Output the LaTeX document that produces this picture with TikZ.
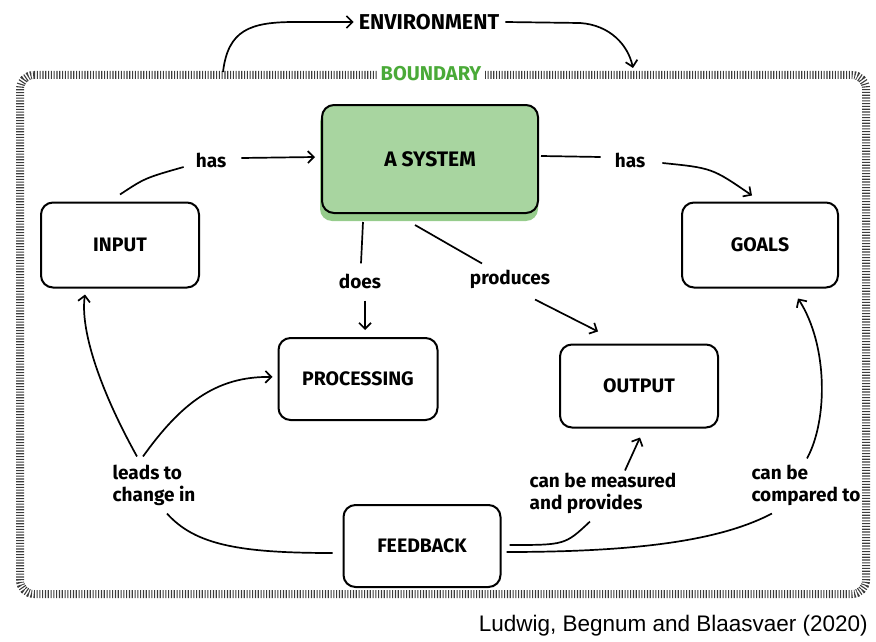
\documentclass[tikz,border=0pt]{standalone}
\usepackage{fontspec}
\setmainfont{Fira Sans}
\newfontfamily\citefont{Liberation Sans}
\usetikzlibrary{arrows.meta}
\definecolor{sysgreen}{RGB}{168,213,160}
\definecolor{shadowgreen}{RGB}{150,204,140}
\definecolor{bndgreen}{RGB}{74,170,56}
\definecolor{hatchgray}{RGB}{60,60,60}
\tikzset{
  box/.style={draw, line width=2pt, rounded corners=12pt, inner sep=0pt,
    font=\bfseries\fontsize{19.5}{19.5}\selectfont},
  lbl/.style={font=\bfseries\fontsize{19}{22}\selectfont, align=left, inner sep=1pt},
  con/.style={line width=1.7pt},
  arr/.style={con, -{Straight Barb[length=6pt,width=12pt,line width=1.7pt]}},
  hatchline/.style={draw=hatchgray, line width=8pt, dash pattern=on 1.1pt off 1.7pt, rounded corners=14pt},
}
\begin{document}
\begin{tikzpicture}[x=1pt,y=-1pt]
\useasboundingbox (0,0) rectangle (876,642);
% boundary
\draw[hatchline] (20,75) -- (866,75) -- (866,594) -- (20,594) -- cycle;
\node[fill=white, inner sep=4pt, text=bndgreen, font=\bfseries\fontsize{20}{20}\selectfont] (bnd) at (431,74) {BOUNDARY};
% environment
\node[lbl, font=\bfseries\fontsize{21.5}{21.5}\selectfont] (env) at (429,22) {ENVIRONMENT};
\coordinate (envL) at (223,72);
\coordinate (envR) at (633,68);
\draw[arr] (envL) .. controls (228,30) and (250,22) .. (295,22) -- ([shift={(-4,0)}]env.west);
\draw[arr] ([shift={(5,0)}]env.east) -- (580,23) .. controls (610,25) and (628,45) .. (envR);
% boxes
\fill[shadowgreen, rounded corners=12pt] (320,110) rectangle (538,221);
\node[box, fill=sysgreen, minimum width=216pt, minimum height=108pt] (sys) at (430,159) {\fontsize{21}{21}\selectfont A SYSTEM};
\node[box, minimum width=158pt, minimum height=85pt] (input) at (120,245) {INPUT};
\node[box, minimum width=156pt, minimum height=85pt] (goals) at (760,245) {GOALS};
\node[box, minimum width=159pt, minimum height=82pt] (proc) at (358,379) {PROCESSING};
\node[box, minimum width=158pt, minimum height=83pt] (output) at (639,386) {OUTPUT};
\node[box, minimum width=157pt, minimum height=82pt] (feed) at (422,546) {FEEDBACK};
% labels
\node[lbl] (hasL) at (211,160) {has};
\node[lbl] (hasR) at (630,160) {has};
\node[lbl] (does) at (360,281) {does};
\node[lbl] (prod) at (510,279) {produces};
\node[lbl] (leads) at (154,485) {leads to\\change in};
\node[lbl] (meas) at (603,493) {can be measured\\and provides};
\node[lbl] (comp) at (806,485) {can be\\compared to};
% connectors
\draw[con] ([shift={(0,-7)}]input.north) .. controls (145,178) .. ([shift={(-11,7)}]hasL.west);
\draw[arr] ([shift={(14,-2)}]hasL.east) -- ([shift={(-6,-2)}]sys.west);
\draw[con] ([shift={(2,-3)}]sys.east) -- ([shift={(-13,-3)}]hasR.west);
\draw[arr] ([shift={(16,3)}]hasR.east) .. controls (712,168) .. ([shift={(-8,-6)}]goals.north);
\draw[con] ([shift={(42,8)}]sys.south west) -- ([shift={(1,-9)}]does.north);
\draw[arr] ([shift={(5,11)}]does.south) -- ([shift={(7,-7)}]proc.north);
\draw[con] ([shift={(-15,11)}]sys.south) -- ([shift={(-28,-5)}]prod.north);
\draw[arr] ([shift={(25,10)}]prod.south) -- ([shift={(-41,-12)}]output.north);
\draw[arr] ([shift={(-17,-7)}]leads.north) .. controls (100,390) and (80,330) .. ([shift={(-35,6)}]input.south);
\draw[arr] ([shift={(-11,-7)}]leads.north) .. controls (180,405) and (215,376) .. ([shift={(-5,-2)}]proc.west);
\draw[con] ([shift={(-10,7)}]feed.west) .. controls (240,553) and (195,545) .. ([shift={(13,7)}]leads.south);
\draw[con] ([shift={(8,-1)}]feed.east) .. controls (565,545) .. ([shift={(-13,7)}]meas.south);
\draw[arr] ([shift={(22,-1)}]meas.north) -- ([shift={(1,9)}]output.south);
\draw[con] ([shift={(5,6)}]feed.east) .. controls (650,552) and (725,538) .. ([shift={(-34,7)}]comp.south);
\draw[arr] ([shift={(1,-5)}]comp.north) .. controls (828,420) and (828,345) .. ([shift={(38,10)}]goals.south);
% citation
\node[anchor=east, inner sep=0pt, font=\citefont\fontsize{22.5}{22.5}\selectfont] (cite) at (868,626) {Ludwig, Begnum and Blaasvaer (2020)};
\end{tikzpicture}
\end{document}
